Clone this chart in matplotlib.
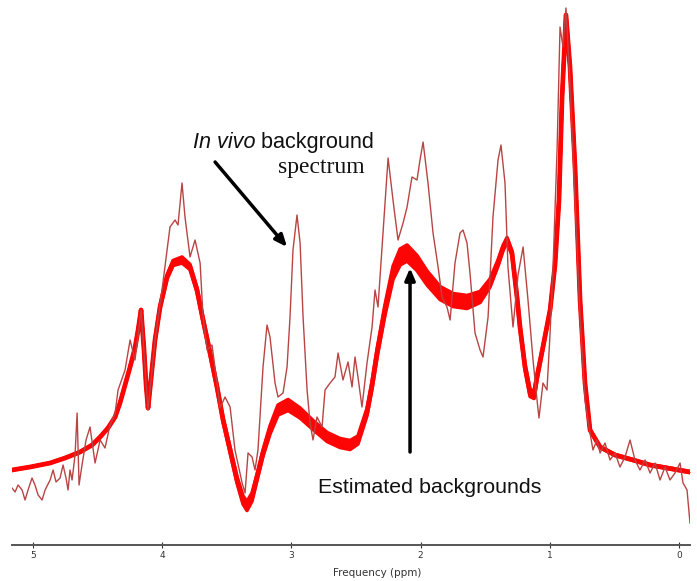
import matplotlib
matplotlib.use("Agg")
import matplotlib.pyplot as plt
import numpy as np

# In vivo background spectrum (ppm, arbitrary intensity)
spec_ppm = [5.163, 5.139, 5.116, 5.085, 5.062, 5.039, 5.008, 4.985, 4.961, 4.930, 4.907, 4.868, 4.845,
            4.822, 4.791, 4.768, 4.745, 4.729, 4.714, 4.698, 4.675, 4.659, 4.644, 4.621, 4.590, 4.559,
            4.520, 4.481, 4.443, 4.404, 4.365, 4.342, 4.288, 4.249, 4.211, 4.187, 4.164, 4.110, 4.056,
            4.002, 3.963, 3.940, 3.901, 3.878, 3.847, 3.824, 3.785, 3.746, 3.707, 3.684, 3.653, 3.615,
            3.576, 3.553, 3.514, 3.475, 3.437, 3.382, 3.359, 3.336, 3.305, 3.282, 3.259, 3.220, 3.189,
            3.166, 3.127, 3.104, 3.065, 3.034, 3.011, 2.988, 2.957, 2.933, 2.910, 2.879, 2.856, 2.833,
            2.802, 2.763, 2.740, 2.701, 2.663, 2.639, 2.601, 2.562, 2.531, 2.508, 2.485, 2.454, 2.415,
            2.376, 2.353, 2.330, 2.291, 2.252, 2.214, 2.175, 2.136, 2.105, 2.067, 2.028, 2.005, 1.981,
            1.943, 1.904, 1.865, 1.834, 1.796, 1.772, 1.734, 1.695, 1.672, 1.641, 1.618, 1.579, 1.540,
            1.517, 1.478, 1.440, 1.401, 1.378, 1.347, 1.324, 1.285, 1.246, 1.207, 1.169, 1.130, 1.099,
            1.084, 1.053, 1.022, 0.998, 0.975, 0.944, 0.921, 0.898, 0.875, 0.844, 0.805, 0.766, 0.728,
            0.689, 0.666, 0.635, 0.611, 0.573, 0.534, 0.495, 0.457, 0.418, 0.379, 0.341, 0.302, 0.263,
            0.224, 0.186, 0.147, 0.108, 0.070, 0.031, -0.008, -0.031, -0.062, -0.085]
spec_int = [57, 53, 60, 55, 45, 55, 67, 60, 50, 45, 55, 65, 75,
            63, 67, 80, 67, 55, 75, 65, 90, 132, 60, 80, 105, 118,
            82, 105, 97, 120, 132, 155, 175, 205, 185, 210, 235, 135, 205,
            255, 295, 318, 325, 320, 362, 328, 288, 305, 282, 228, 195, 200,
            162, 137, 148, 138, 95, 62, 52, 92, 88, 75, 95, 178, 220,
            208, 162, 148, 152, 178, 228, 295, 330, 302, 228, 155, 122, 105,
            128, 118, 155, 162, 168, 192, 165, 183, 158, 188, 168, 138, 182,
            218, 255, 238, 312, 387, 345, 305, 322, 338, 368, 365, 385, 403,
            362, 312, 278, 248, 238, 225, 282, 312, 315, 302, 272, 212, 195,
            188, 228, 328, 385, 400, 362, 278, 218, 270, 298, 245, 185, 145,
            127, 162, 155, 212, 278, 395, 518, 498, 537, 462, 345, 228, 145,
            112, 95, 105, 92, 102, 85, 92, 78, 88, 105, 85, 75, 85,
            72, 82, 65, 78, 65, 72, 82, 62, 55, 22]

# Estimated backgrounds: centre line and vertical spread of the family of curves
bg_ppm = [5.163, 5.023, 4.868, 4.752, 4.636, 4.543, 4.481, 4.420, 4.365, 4.327, 4.288, 4.249, 4.211,
          4.187, 4.164, 4.141, 4.125, 4.110, 4.094, 4.056, 4.017, 3.963, 3.916, 3.847, 3.785, 3.731,
          3.684, 3.630, 3.576, 3.529, 3.475, 3.421, 3.375, 3.344, 3.305, 3.266, 3.220, 3.166, 3.104,
          3.026, 2.933, 2.833, 2.724, 2.624, 2.546, 2.485, 2.415, 2.376, 2.337, 2.276, 2.214, 2.159,
          2.105, 2.028, 1.950, 1.850, 1.749, 1.641, 1.540, 1.463, 1.401, 1.362, 1.331, 1.293, 1.254,
          1.231, 1.192, 1.153, 1.122, 1.099, 1.053, 0.998, 0.960, 0.929, 0.906, 0.875, 0.844, 0.805,
          0.766, 0.728, 0.689, 0.611, 0.495, 0.356, 0.224, 0.093, -0.085]
bg_int = [75, 78, 82, 87, 93, 100, 108, 117, 128, 142, 160, 178, 197,
          215, 235, 195, 160, 137, 157, 205, 238, 268, 282, 285, 278, 255,
          225, 192, 158, 125, 95, 65, 45, 39, 48, 68, 92, 115, 135,
          140, 132, 120, 108, 102, 100, 105, 133, 160, 192, 235, 272, 288,
          292, 282, 267, 252, 245, 243, 248, 262, 282, 297, 305, 292, 248,
          218, 178, 152, 150, 168, 198, 235, 280, 345, 445, 530, 478, 378,
          245, 162, 115, 98, 90, 85, 80, 77, 73]
bg_spread = [0, 0, 0, 0, 0, 0, 0, 0, 0, 0, 0, 0, 1,
             1, 1, 1, 1, 1, 1, 2, 3, 4, 5, 6, 5, 4,
             4, 4, 4, 4, 5, 6, 8, 9, 8, 6, 6, 8, 10,
             11, 10, 9, 9, 9, 9, 8, 7, 7, 8, 10, 13, 16,
             16, 15, 14, 13, 13, 13, 11, 8, 6, 5, 5, 4, 4,
             4, 5, 7, 7, 5, 3, 2, 2, 1, 1, 1, 1, 1,
             1, 1, 1, 1, 1, 1, 1, 1, 1]

xticks = [5, 4, 3, 2, 1, 0]
xtick_labels = ["5", "4", "3", "2", "1", "0"]

W, H = 697, 581
fig = plt.figure(figsize=(W / 100, H / 100), dpi=100)
ax = fig.add_axes([12 / W, (H - 545) / H, 678 / W, 545 / H])

x = np.array(bg_ppm, dtype=float)
y = np.array(bg_int, dtype=float)
h = np.array(bg_spread, dtype=float) / 2.0
red = "#fe0505"
ax.fill_between(x, y - h, y + h, color=red, lw=0, zorder=2)
ax.plot(x, y + h, color=red, lw=2.6, zorder=2, solid_joinstyle="round")
ax.plot(x, y - h, color=red, lw=2.6, zorder=2, solid_joinstyle="round")
ax.plot(x, y, color=red, lw=3.4, zorder=2, solid_joinstyle="round")

ax.plot(spec_ppm, spec_int, color="#b94444", lw=1.0, zorder=3)

ax.set_xlim(5.163, -0.085)
ax.set_ylim(0, 545)

for s in ["top", "right", "left"]:
    ax.spines[s].set_visible(False)
ax.spines["bottom"].set_color("#555555")
ax.spines["bottom"].set_linewidth(1.4)
ax.set_yticks([])
ax.set_xticks(xticks)
ax.set_xticklabels(xtick_labels)
ax.tick_params(axis="x", direction="inout", length=5, width=0.8, colors="#333333",
               labelsize=6.5, pad=2)
ax.set_xlabel("Frequency (ppm)", fontsize=7.5, color="#333333")
ax.xaxis.set_label_coords(0.538, -0.043)

# Annotations
t1 = ax.text(3.762, 397, "In vivo", fontsize=15.6, style="italic", family="Liberation Sans",
             color="#111111", va="baseline", ha="left")
fig.canvas.draw()
bb = t1.get_window_extent(renderer=fig.canvas.get_renderer())
xd, _ = ax.transData.inverted().transform((bb.x1, 0))
ax.text(xd, 397, " background", fontsize=15.6, family="Liberation Sans", color="#111111",
        va="baseline", ha="left")
ax.text(3.104, 372, "spectrum", fontsize=17, family="Liberation Serif", color="#111111",
        va="baseline", ha="left")
ax.annotate("", xy=(3.034, 298), xytext=(3.591, 383),
            arrowprops=dict(arrowstyle="-|>,head_length=0.7,head_width=0.3", color="black", lw=2.5,
                            shrinkA=0, shrinkB=0))
ax.annotate("", xy=(2.082, 277), xytext=(2.082, 93),
            arrowprops=dict(arrowstyle="-|>,head_length=0.7,head_width=0.3", color="black", lw=2.5,
                            shrinkA=0, shrinkB=0))
ax.text(2.794, 52, "Estimated backgrounds", fontsize=15.4, family="Liberation Sans", color="#111111",
        va="baseline", ha="left")

fig.savefig("out.png", dpi=100)
